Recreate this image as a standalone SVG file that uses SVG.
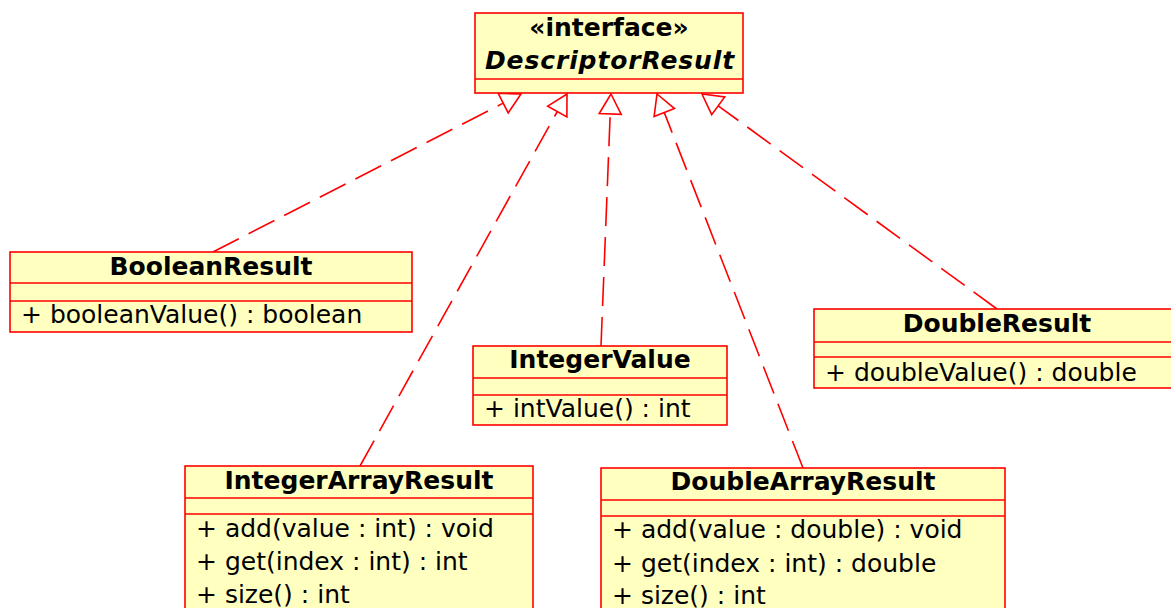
<svg xmlns="http://www.w3.org/2000/svg" width="1171" height="608" viewBox="0 0 1171 608">
  <style>
    .box { fill: #ffffc0; stroke: #ff0000; stroke-width: 1.6; }
    .sep { stroke: #ff0000; stroke-width: 1.6; }
    .title { font-family: "DejaVu Sans", "Liberation Sans", sans-serif; font-weight: bold; font-size: 25px; fill: #000000; text-anchor: middle; }
    .iface { font-style: italic; letter-spacing: 0.9px; }
    .op { font-family: "DejaVu Sans", "Liberation Sans", sans-serif; font-size: 25px; fill: #000000; }
    .dep { fill: none; stroke: #ff0000; stroke-width: 1.6; stroke-dasharray: 29 11; }
    .head { fill: #ffffff; stroke: #ff0000; stroke-width: 1.6; stroke-linejoin: miter; }
  </style>

  <!-- realization connectors: dashed line + hollow triangle at the interface -->
  <g id="connectors">
    <line class="dep" x1="213" y1="252" x2="503.2" y2="103.1"/>
    <polygon class="head" points="521,94 508.2,112.9 498.2,93.3"/>

    <line class="dep" x1="360" y1="466" x2="557.3" y2="111.5"/>
    <polygon class="head" points="567,94 566.9,116.9 547.7,106.1"/>

    <line class="dep" x1="601" y1="346" x2="610.2" y2="114"/>
    <polygon class="head" points="611,94 621.2,114.4 599.2,113.6"/>

    <line class="dep" x1="803" y1="468" x2="664.3" y2="112.6"/>
    <polygon class="head" points="657,94 674.5,108.6 654.1,116.6"/>

    <line class="dep" x1="997" y1="309" x2="718.2" y2="105.8"/>
    <polygon class="head" points="702,94 724.7,96.9 711.7,114.7"/>
  </g>

  <!-- interface -->
  <g id="DescriptorResult">
    <rect class="box" x="475" y="13" width="268" height="80"/>
    <line class="sep" x1="475" y1="79" x2="743" y2="79"/>
    <text class="title" x="609" y="36">«interface»</text>
    <text class="title iface" x="610" y="69">DescriptorResult</text>
  </g>

  <g id="BooleanResult">
    <rect class="box" x="10" y="252" width="402" height="80"/>
    <line class="sep" x1="10" y1="283" x2="412" y2="283"/>
    <line class="sep" x1="10" y1="301" x2="412" y2="301"/>
    <text class="title" x="211" y="275">BooleanResult</text>
    <text class="op" x="21" y="323">+ booleanValue() : boolean</text>
  </g>

  <g id="IntegerValue">
    <rect class="box" x="473" y="346" width="254" height="79"/>
    <line class="sep" x1="473" y1="378" x2="727" y2="378"/>
    <line class="sep" x1="473" y1="395" x2="727" y2="395"/>
    <text class="title" x="600" y="368">IntegerValue</text>
    <text class="op" x="484" y="417">+ intValue() : int</text>
  </g>

  <g id="DoubleResult">
    <rect class="box" x="814" y="309" width="366" height="79"/>
    <line class="sep" x1="814" y1="342" x2="1180" y2="342"/>
    <line class="sep" x1="814" y1="357" x2="1180" y2="357"/>
    <text class="title" x="997" y="332">DoubleResult</text>
    <text class="op" x="825" y="381">+ doubleValue() : double</text>
  </g>

  <g id="IntegerArrayResult">
    <rect class="box" x="185" y="466" width="348" height="160"/>
    <line class="sep" x1="185" y1="498" x2="533" y2="498"/>
    <line class="sep" x1="185" y1="514" x2="533" y2="514"/>
    <text class="title" x="359" y="489">IntegerArrayResult</text>
    <text class="op" x="196" y="537">+ add(value : int) : void</text>
    <text class="op" x="196" y="570">+ get(index : int) : int</text>
    <text class="op" x="196" y="603">+ size() : int</text>
  </g>

  <g id="DoubleArrayResult">
    <rect class="box" x="601" y="468" width="404" height="160"/>
    <line class="sep" x1="601" y1="500" x2="1005" y2="500"/>
    <line class="sep" x1="601" y1="516" x2="1005" y2="516"/>
    <text class="title" x="803" y="490">DoubleArrayResult</text>
    <text class="op" x="612" y="538">+ add(value : double) : void</text>
    <text class="op" x="612" y="572">+ get(index : int) : double</text>
    <text class="op" x="612" y="604">+ size() : int</text>
  </g>
</svg>
